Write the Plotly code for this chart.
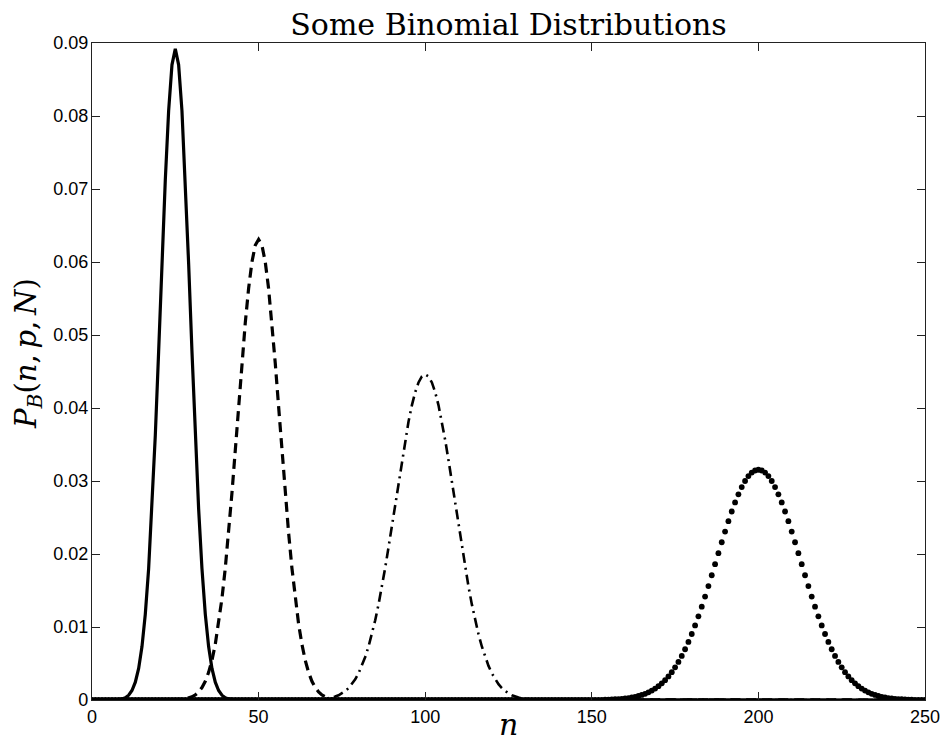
import plotly.graph_objects as go

# ---------------- data ----------------
X_TICKS = [0, 50, 100, 150, 200, 250]
Y_TICKS = [0, 0.01, 0.02, 0.03, 0.04, 0.05, 0.06, 0.07, 0.08, 0.09]
Y_TICK_LABELS = ["0", "0.01", "0.02", "0.03", "0.04", "0.05", "0.06", "0.07", "0.08", "0.09"]

# solid curve (peak near n = 25)
SOLID_N = [0, *range(7, 44), 250]
SOLID_P = [0,
           0.00003, 0.00007, 0.00015, 0.00032, 0.00066, 0.00130, 0.00244, 0.00433, 0.00732,
           0.01177, 0.01801, 0.02621, 0.03627, 0.04775, 0.05980, 0.07124, 0.08072, 0.08701,
           0.08921,
           0.08701, 0.08072, 0.07124, 0.05980, 0.04775, 0.03627, 0.02621, 0.01801, 0.01177,
           0.00732, 0.00433, 0.00244, 0.00130, 0.00066, 0.00032, 0.00015, 0.00007, 0.00003,
           0]

# dashed curve (peak near n = 50)
DASHED_N = [0, *range(25, 76), 250]
DASHED_P = [0,
            0.00003, 0.00005, 0.00008, 0.00015, 0.00025, 0.00043, 0.00069, 0.00110, 0.00170,
            0.00257, 0.00379, 0.00544, 0.00763, 0.01043, 0.01390, 0.01807, 0.02292, 0.02834,
            0.03419, 0.04022, 0.04615, 0.05165, 0.05637, 0.06000, 0.06230,
            0.06308,
            0.06230, 0.06000, 0.05637, 0.05165, 0.04615, 0.04022, 0.03419, 0.02834, 0.02292,
            0.01807, 0.01390, 0.01043, 0.00763, 0.00544, 0.00379, 0.00257, 0.00170, 0.00110,
            0.00069, 0.00043, 0.00025, 0.00015, 0.00008, 0.00005, 0.00003,
            0]

# dash-dot curve (peak near n = 100)
DASHDOT_N = [0, *range(65, 136), 250]
DASHDOT_P = [0,
             0.00002, 0.00003, 0.00005, 0.00007, 0.00011, 0.00016, 0.00023, 0.00033, 0.00047,
             0.00065, 0.00090, 0.00122, 0.00164, 0.00216, 0.00283, 0.00366, 0.00467, 0.00589,
             0.00733, 0.00900, 0.01093, 0.01310, 0.01551, 0.01813, 0.02094, 0.02387, 0.02688,
             0.02990, 0.03283, 0.03561, 0.03815, 0.04036, 0.04216, 0.04350, 0.04432,
             0.04460,
             0.04432, 0.04350, 0.04216, 0.04036, 0.03815, 0.03561, 0.03283, 0.02990, 0.02688,
             0.02387, 0.02094, 0.01813, 0.01551, 0.01310, 0.01093, 0.00900, 0.00733, 0.00589,
             0.00467, 0.00366, 0.00283, 0.00216, 0.00164, 0.00122, 0.00090, 0.00065, 0.00047,
             0.00033, 0.00023, 0.00016, 0.00011, 0.00007, 0.00005, 0.00003, 0.00002,
             0]

# dotted curve (one dot per n = 0..250, peak near n = 200)
DOTTED_N = list(range(0, 251))
DOTTED_P = [
    0, 0, 0, 0, 0, 0, 0, 0, 0, 0, 0, 0, 0, 0, 0, 0, 0, 0, 0, 0, 0, 0, 0, 0, 0,
    0, 0, 0, 0, 0, 0, 0, 0, 0, 0, 0, 0, 0, 0, 0, 0, 0, 0, 0, 0, 0, 0, 0, 0, 0,
    0, 0, 0, 0, 0, 0, 0, 0, 0, 0, 0, 0, 0, 0, 0, 0, 0, 0, 0, 0, 0, 0, 0, 0, 0,
    0, 0, 0, 0, 0, 0, 0, 0, 0, 0, 0, 0, 0, 0, 0, 0, 0, 0, 0, 0, 0, 0, 0, 0, 0,
    0, 0, 0, 0, 0, 0, 0, 0, 0, 0, 0, 0, 0, 0, 0, 0, 0, 0, 0, 0, 0, 0, 0, 0, 0,
    0, 0, 0, 0, 0, 0, 0, 0, 0, 0, 0, 0, 0, 0, 0, 0, 0, 0, 0, 0, 0, 0, 0, 0, 0,
    0.00001, 0.00002, 0.00002, 0.00003, 0.00004, 0.00006, 0.00007, 0.00010, 0.00013, 0.00016,
    0.00021, 0.00027, 0.00035, 0.00044, 0.00055, 0.00069, 0.00085, 0.00105, 0.00129, 0.00157,
    0.00189, 0.00228, 0.00272, 0.00323, 0.00381, 0.00447, 0.00521, 0.00604, 0.00695, 0.00795,
    0.00904, 0.01021, 0.01146, 0.01278, 0.01417, 0.01561, 0.01709, 0.01860, 0.02011, 0.02161,
    0.02307, 0.02449, 0.02582, 0.02706, 0.02818, 0.02917, 0.03000, 0.03067, 0.03115, 0.03144,
    0.03154,
    0.03144, 0.03115, 0.03067, 0.03000, 0.02917, 0.02818, 0.02706, 0.02582, 0.02449, 0.02307,
    0.02161, 0.02011, 0.01860, 0.01709, 0.01561, 0.01417, 0.01278, 0.01146, 0.01021, 0.00904,
    0.00795, 0.00695, 0.00604, 0.00521, 0.00447, 0.00381, 0.00323, 0.00272, 0.00228, 0.00189,
    0.00157, 0.00129, 0.00105, 0.00085, 0.00069, 0.00055, 0.00044, 0.00035, 0.00027, 0.00021,
    0.00016, 0.00013, 0.00010, 0.00007, 0.00006, 0.00004, 0.00003, 0.00002, 0.00002, 0.00001,
]

TITLE = "Some Binomial Distributions"
X_LABEL = "<i>n</i>"
Y_LABEL = "<i>P</i><sub><i>B</i></sub>(<i>n</i>,\u2009<i>p</i>,\u2009<i>N</i>)"

# ---------------- figure ----------------
fig = go.Figure()
fig.add_trace(go.Scatter(x=SOLID_N, y=SOLID_P, mode="lines",
                         line=dict(color="black", width=3.2), showlegend=False))
fig.add_trace(go.Scatter(x=DASHED_N, y=DASHED_P, mode="lines",
                         line=dict(color="black", width=3.2, dash="10px,6px"), showlegend=False))
fig.add_trace(go.Scatter(x=DASHDOT_N, y=DASHDOT_P, mode="lines",
                         line=dict(color="black", width=2.6, dash="10px,5px,2px,5px"), showlegend=False))
fig.add_trace(go.Scatter(x=DOTTED_N, y=DOTTED_P, mode="markers",
                         marker=dict(color="black", size=5.8, line=dict(width=0)), showlegend=False))

axis_common = dict(
    showgrid=False, zeroline=False, showline=True, linecolor="#222222", linewidth=1.3,
    mirror="allticks", ticks="inside", ticklen=8, tickwidth=1, tickcolor="#222222",
    automargin=False,
    tickfont=dict(family="Liberation Sans, Arial, sans-serif", size=18, color="black"),
)

fig.update_layout(
    width=942, height=744,
    margin=dict(l=92, r=17, t=43, b=44, autoexpand=False),
    paper_bgcolor="white", plot_bgcolor="white",
    xaxis=dict(range=[0, 250], tickvals=X_TICKS, ticktext=[str(v) for v in X_TICKS],
               ticklabelstandoff=0, **axis_common),
    yaxis=dict(range=[0, 0.09], tickvals=Y_TICKS, ticktext=Y_TICK_LABELS,
               ticklabelstandoff=-1, **axis_common),
    title=dict(text=TITLE, x=0.5, xref="paper", xanchor="center",
               y=1 - 24 / 744, yref="container", yanchor="middle",
               font=dict(family="DejaVu Serif, serif", size=30, color="black")),
    annotations=[
        dict(text=X_LABEL, xref="paper", yref="paper", x=0.5, y=-44 / 657,
             xanchor="center", yanchor="bottom", showarrow=False,
             font=dict(family="DejaVu Serif, serif", size=30, color="black")),
        dict(text=Y_LABEL, xref="paper", yref="paper", x=-64 / 833, y=(700 - 354) / 657,
             xanchor="center", yanchor="middle", textangle=-90, showarrow=False,
             font=dict(family="DejaVu Serif, serif", size=29, color="black")),
    ],
)

fig.write_html("out.html", config={"displayModeBar": False},
               post_script="document.body.style.margin='0';document.body.style.overflow='hidden';")
